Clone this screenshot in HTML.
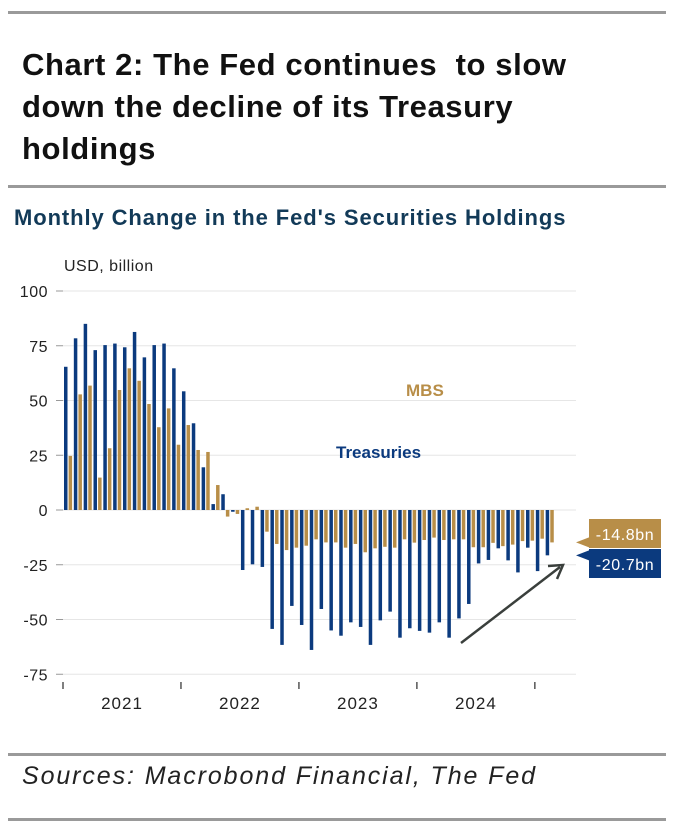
<!DOCTYPE html>
<html><head><meta charset="utf-8"><style>
body{margin:0;background:#fff;font-family:"Liberation Sans",sans-serif;}
.wrap{position:relative;width:674px;height:832px;overflow:hidden;}
.rule{position:absolute;left:8px;width:658px;height:3px;background:#9a9a9a;}
.title{position:absolute;left:22px;top:44px;font-size:31px;line-height:42px;color:#111;font-weight:bold;letter-spacing:0.6px;}
.sub{position:absolute;left:14px;top:205px;font-size:22px;font-weight:bold;color:#123a58;letter-spacing:0.9px;}
.src{position:absolute;left:22px;top:762px;font-size:25px;font-style:italic;color:#222;letter-spacing:1.9px;}
</style></head><body>
<div class="wrap">
<div class="rule" style="top:11px"></div>
<div class="title">Chart 2: The Fed continues&nbsp; to slow<br>down the decline of its Treasury<br>holdings</div>
<div class="rule" style="top:185px"></div>
<div class="sub">Monthly Change in the Fed's Securities Holdings</div>
<svg id="chart" width="674" height="832" style="position:absolute;left:0;top:0"></svg>
<div class="rule" style="top:753px"></div>
<div class="src">Sources: Macrobond Financial, The Fed</div>
<div class="rule" style="top:818px"></div>
</div>
<script>
const yTicks=[100,75,50,25,0,-25,-50,-75];
const years=["2021","2022","2023","2024"];
const treasuries=[65.4,78.4,85,73,75.3,76,74.3,81.3,69.7,75.3,76,64.7,54.2,39.6,19.5,2.7,7.2,-0.8,-27.4,-24.8,-26,-54.3,-61.6,-43.8,-52.5,-63.9,-45.2,-55,-57.4,-51.3,-53.4,-61.6,-50.4,-46.4,-58.3,-54,-55.2,-56,-51.3,-58.3,-49.5,-42.9,-24.4,-22.8,-17.5,-23,-28.5,-17.2,-27.9,-20.7];
const mbs=[24.7,52.8,56.8,14.8,28.2,54.8,64.7,59,48.4,37.8,46.4,29.8,38.8,27.4,26.5,11.4,-3,-1.8,0.8,1.5,-9.9,-15.5,-18.3,-17.2,-16.3,-13.4,-14.8,-14.8,-17.2,-15.5,-19.3,-17.5,-16.8,-17.2,-13.4,-14.9,-13.7,-12.6,-13.7,-13.4,-13.4,-17,-17,-15,-16.5,-15.8,-14.2,-14,-13.1,-14.8];
const labels=["-14.8bn","-20.7bn"];
const NS="http://www.w3.org/2000/svg",svg=document.getElementById('chart');
const y=v=>510-v*2.19, x=i=>64+9.83*i;
function mk(t,a){const e=document.createElementNS(NS,t);for(const k in a)e.setAttribute(k,a[k]);svg.appendChild(e);return e;}
let t=mk('text',{x:64,y:271,'font-size':16,fill:'#222','font-family':'Liberation Sans','letter-spacing':0.5});t.textContent='USD, billion';

yTicks.forEach(v=>{
 const g=mk('line',{x1:63,x2:576,y1:y(v),y2:y(v),stroke:'#e6e6e6','stroke-width':1});
 
 const k=mk('line',{x1:56,x2:63,y1:y(v),y2:y(v),stroke:'#999','stroke-width':1});
 
 const l=mk('text',{x:48,y:y(v)+6,'text-anchor':'end','font-size':16,fill:'#222','font-family':'Liberation Sans','letter-spacing':0.5});l.textContent=v;
 
});
for(let j=0;j<=years.length;j++){
 const xx=x(j*12)-1;
 const k=mk('line',{x1:xx,x2:xx,y1:682,y2:689,stroke:'#555','stroke-width':1.5});
 
 if(j<years.length){const l=mk('text',{x:xx+59,y:709,'text-anchor':'middle','font-size':17,fill:'#222','font-family':'Liberation Sans','letter-spacing':1});l.textContent=years[j];
 }
}
treasuries.forEach((v,i)=>{
 const r=mk('rect',{x:x(i),y:Math.min(y(v),y(0)),width:3.5,height:Math.abs(y(v)-y(0)),fill:'#0b3a7e'});
 
});
mbs.forEach((v,i)=>{
 const r=mk('rect',{x:x(i)+4.6,y:Math.min(y(v),y(0)),width:3.5,height:Math.abs(y(v)-y(0)),fill:'#b88e48'});
 
});
let m=mk('text',{x:406,y:396,'font-size':17,'font-weight':'bold',fill:'#b88e48','font-family':'Liberation Sans'});m.textContent='MBS';

let tr=mk('text',{x:336,y:458,'font-size':17,'font-weight':'bold',fill:'#0b3a7e','font-family':'Liberation Sans'});tr.textContent='Treasuries';

[[mbs[mbs.length-1],'#b88e48',labels[0]],[treasuries[treasuries.length-1],'#0b3a7e',labels[1]]].forEach((d,k)=>{
 const top=519+k*30, yy=y(d[0]);
 const b=mk('path',{d:`M589 ${top} H661 V${top+29} H589 V${yy+5} L576 ${yy} L589 ${yy-5} Z`,fill:d[1]});
 
 const l=mk('text',{x:625,y:top+21,'text-anchor':'middle','font-size':16,fill:'#fff','font-family':'Liberation Sans','letter-spacing':0.6});l.textContent=d[2];
 
});
const a=mk('line',{x1:461,y1:643,x2:560,y2:567,stroke:'#3a3f3c','stroke-width':2.5});

const h=mk('path',{d:'M548 566 L563 565 L557 579',fill:'none',stroke:'#3a3f3c','stroke-width':2.5});

</script>
</body></html>
